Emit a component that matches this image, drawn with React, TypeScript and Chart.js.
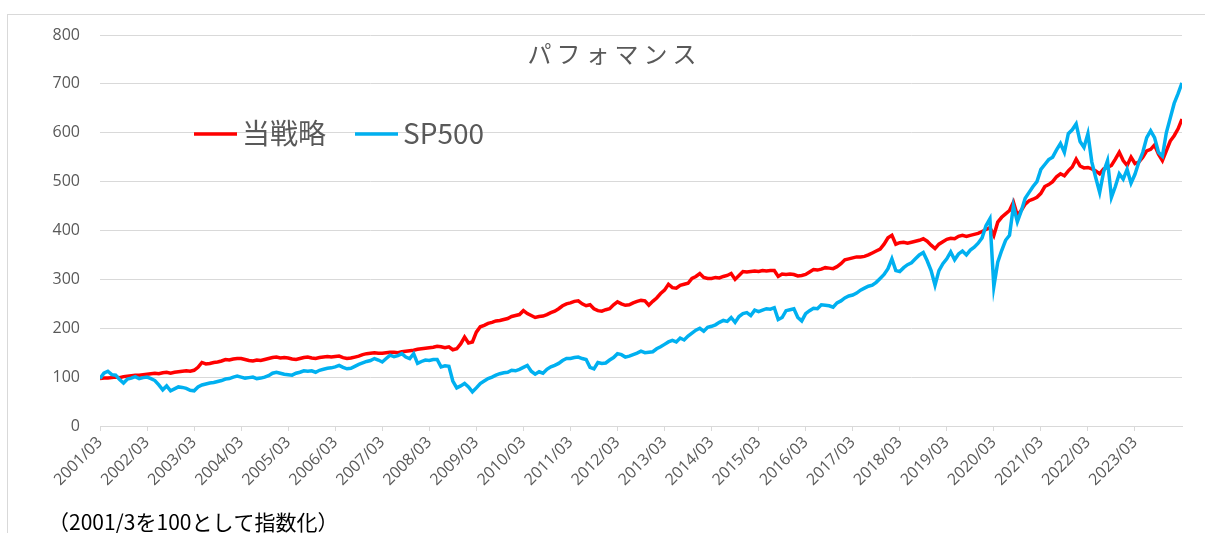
import React, { useEffect, useRef } from 'react';
import { Chart, registerables } from 'chart.js';

Chart.register(...registerables);

// ---- Text ----
const chartTitle = 'パフォマンス';
const seriesNames = ['当戦略', 'SP500'];
const noteText = '（2001/3を100として指数化）';

// ---- X tick labels (one every 12 months, starting 2001/03) ----
const yearLabels = [
  '2001/03', '2002/03', '2003/03', '2004/03', '2005/03', '2006/03', '2007/03', '2008/03',
  '2009/03', '2010/03', '2011/03', '2012/03', '2013/03', '2014/03', '2015/03', '2016/03',
  '2017/03', '2018/03', '2019/03', '2020/03', '2021/03', '2022/03', '2023/03',
];

// ---- Monthly index values, 2001/03 .. 2024/03 (rows = Mar..Feb) ----
const strategyValues = [
  97, 98, 98, 99, 100, 99, 101, 102, 103, 104, 104, 105,
  106, 107, 108, 107, 109, 110, 108, 110, 111, 112, 113, 112,
  114, 120, 130, 127, 128, 130, 131, 133, 136, 135, 137, 138,
  138, 136, 134, 133, 135, 134, 136, 138, 140, 141, 139, 140,
  139, 137, 136, 138, 140, 141, 139, 138, 140, 141, 142, 141,
  142, 143, 140, 138, 139, 141, 143, 146, 148, 149, 150, 149,
  149, 150, 151, 151, 150, 152, 153, 154, 155, 157, 158, 159,
  160, 161, 163, 162, 160, 162, 156, 158, 168, 182, 170, 172,
  192, 203, 206, 210, 212, 215, 216, 218, 220, 224, 226, 228,
  236, 230, 226, 222, 224, 225, 228, 232, 235, 240, 246, 250,
  252, 255, 256, 250, 246, 248, 240, 236, 235, 238, 240, 248,
  254, 250, 247, 248, 252, 255, 257, 256, 247, 255, 262, 271,
  278, 290, 283, 282, 288, 290, 292, 302, 306, 312, 304, 302,
  302, 304, 303, 306, 308, 312, 300, 308, 316, 315, 316, 317,
  316, 318, 317, 318, 318, 306, 311, 310, 311, 310, 307, 308,
  310, 315, 320, 319, 321, 324, 323, 322, 326, 332, 340, 342,
  344, 346, 346, 347, 350, 354, 358, 362, 372, 385, 390, 372,
  375, 376, 374, 376, 378, 380, 383, 378, 370, 363, 372, 377,
  382, 384, 383, 388, 390, 388, 390, 392, 394, 398, 402, 406,
  390, 417, 427, 434, 441, 458, 431, 441, 454, 461, 464, 468,
  476, 490, 494, 500, 510, 516, 512, 522, 530, 546, 532, 528,
  529, 526, 522, 516, 526, 529, 533, 546, 560, 543, 533, 550,
  537, 540, 550, 563, 566, 575, 556, 543, 563, 583, 594, 608,
  628,
];

const sp500Values = [
  97, 108, 112, 105, 104, 95, 88, 96, 98, 101, 97, 99,
  100, 97, 93, 84, 74, 82, 72, 76, 80, 79, 77, 73,
  72, 80, 84, 86, 88, 89, 91, 93, 96, 97, 100, 102,
  100, 98, 99, 100, 97, 98, 100, 103, 108, 110, 108, 106,
  105, 104, 108, 110, 113, 112, 113, 110, 114, 116, 118, 119,
  121, 124, 120, 117, 118, 122, 126, 129, 132, 134, 138, 135,
  131, 138, 145, 142, 144, 148, 141, 138, 148, 128, 132, 135,
  134, 136, 136, 121, 123, 122, 92, 78, 82, 87, 80, 70,
  78, 87, 92, 97, 100, 104, 107, 109, 110, 114, 113, 116,
  120, 124, 112, 106, 111, 108, 116, 121, 124, 128, 134, 138,
  138, 140, 141, 138, 136, 120, 117, 130, 128, 129, 135, 140,
  148, 146, 141, 143, 146, 149, 153, 150, 151, 152, 158, 162,
  167, 172, 175, 172, 180, 176, 184, 190, 196, 200, 194, 202,
  204, 207, 212, 216, 214, 222, 212, 224, 230, 232, 226, 237,
  234, 237, 240, 239, 242, 218, 222, 236, 238, 240, 222, 215,
  230, 236, 241, 240, 248, 247, 246, 243, 252, 256, 262, 266,
  268, 272, 278, 282, 286, 288, 294, 302, 310, 322, 342, 318,
  316, 324, 330, 334, 342, 350, 355, 338, 318, 288, 318, 332,
  342, 356, 340, 352, 358, 350, 360, 366, 374, 385, 410, 424,
  285, 335, 359, 380, 390, 450, 418, 440, 466, 478, 490, 500,
  525, 535, 545, 550, 565, 578, 560, 598, 606, 618, 582, 570,
  598, 540, 508, 478, 520, 543, 468, 490, 516, 505, 525, 497,
  515, 540, 560, 590, 604, 590, 560, 552, 600, 630, 660, 680,
  702,
];

const RED = '#FF0000';
const BLUE = '#00B0F0';
const GRID = '#D9D9D9';
const TEXT = '#595959';
const JP_FONT = '"Noto Sans CJK JP", "Noto Sans", sans-serif';
const NUM_FONT = '"Open Sans", "Noto Sans", sans-serif';

export default function App() {
  const canvasRef = useRef<HTMLCanvasElement>(null);

  useEffect(() => {
    const canvas = canvasRef.current;
    if (!canvas) return;

    const decor = {
      id: 'decor',
      beforeDraw(chart: any) {
        const ctx = chart.ctx;
        ctx.save();
        ctx.fillStyle = '#FFFFFF';
        ctx.fillRect(0, 0, chart.width, chart.height);
        ctx.strokeStyle = GRID;
        ctx.lineWidth = 1;
        ctx.strokeRect(7.5, 14.5, 1400, 800);
        ctx.restore();
      },
      afterDraw(chart: any) {
        const ctx = chart.ctx;
        ctx.save();
        // Title with character spacing
        ctx.font = `24px ${JP_FONT}`;
        ctx.fillStyle = TEXT;
        ctx.textBaseline = 'middle';
        ctx.textAlign = 'left';
        const spacing = 5;
        const chars = Array.from(chartTitle);
        const widths = chars.map((c) => ctx.measureText(c).width);
        const total = widths.reduce((a, b) => a + b, 0) + spacing * (chars.length - 1);
        let tx = 612 - total / 2;
        chars.forEach((c, i) => {
          ctx.fillText(c, tx, 54);
          tx += widths[i] + spacing;
        });

        // Legend
        const legendY = 134;
        const entries = [
          { name: seriesNames[0], color: RED, x: 194 },
          { name: seriesNames[1], color: BLUE, x: 355 },
        ];
        ctx.font = `28px ${JP_FONT}`;
        entries.forEach((e) => {
          ctx.strokeStyle = e.color;
          ctx.lineWidth = 3.5;
          ctx.beginPath();
          ctx.moveTo(e.x, legendY);
          ctx.lineTo(e.x + 43, legendY);
          ctx.stroke();
          ctx.fillStyle = TEXT;
          ctx.fillText(e.name, e.x + 48, legendY - 1);
        });

        // Note
        ctx.font = `21px ${JP_FONT}`;
        ctx.fillStyle = '#000000';
        ctx.fillText(noteText, 48, 522);
        ctx.restore();
      },
    };

    const chart = new Chart(canvas, {
      type: 'line',
      data: {
        datasets: [
          {
            label: seriesNames[0],
            data: strategyValues.map((y, i) => ({ x: i, y })),
            borderColor: RED,
            backgroundColor: RED,
            borderWidth: 3.5,
            pointRadius: 0,
            tension: 0,
            order: 2,
          },
          {
            label: seriesNames[1],
            data: sp500Values.map((y, i) => ({ x: i, y })),
            borderColor: BLUE,
            backgroundColor: BLUE,
            borderWidth: 3.5,
            pointRadius: 0,
            tension: 0,
            order: 1,
          },
        ],
      },
      options: {
        responsive: false,
        animation: false,
        devicePixelRatio: 1,
        layout: { padding: { top: 35, right: 23, left: 0, bottom: 0 } },
        plugins: {
          legend: { display: false },
          title: { display: false },
          tooltip: { enabled: false },
        },
        events: [],
        scales: {
          x: {
            type: 'linear',
            min: 0,
            max: strategyValues.length - 1,
            afterBuildTicks: (axis: any) => {
              axis.ticks = yearLabels.map((_, i) => ({ value: i * 12 }));
            },
            afterFit: (axis: any) => {
              axis.height = 107;
            },
            grid: {
              drawOnChartArea: false,
              drawTicks: true,
              tickLength: 5,
              color: GRID,
            },
            border: { display: true, color: GRID },
            ticks: {
              autoSkip: false,
              minRotation: 45,
              maxRotation: 45,
              padding: 2,
              color: TEXT,
              font: { family: NUM_FONT, size: 16 },
              callback: (value: any) => yearLabels[Math.round(Number(value) / 12)] ?? '',
            },
          },
          y: {
            type: 'linear',
            min: 0,
            max: 800,
            afterFit: (axis: any) => {
              axis.width = 100;
            },
            grid: { color: GRID, drawTicks: false, lineWidth: 1 },
            border: { display: false },
            ticks: {
              stepSize: 100,
              padding: 20,
              color: TEXT,
              font: { family: NUM_FONT, size: 16 },
            },
          },
        },
      },
      plugins: [decor],
    } as any);

    return () => chart.destroy();
  }, []);

  return (
    <div style={{ position: 'absolute', left: 0, top: 0, width: 1205, height: 533 }}>
      <canvas ref={canvasRef} width={1205} height={533} style={{ display: 'block', width: 1205, height: 533 }} />
    </div>
  );
}
